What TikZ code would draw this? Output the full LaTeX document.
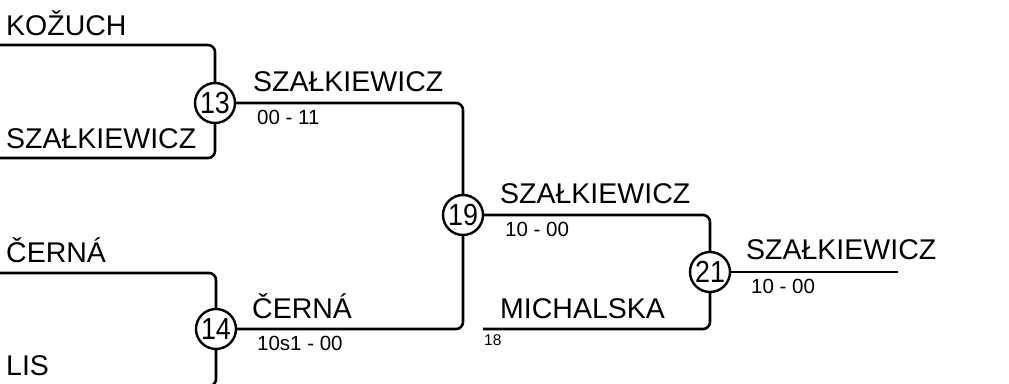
\documentclass[tikz,border=0pt]{standalone}
\usepackage{fontspec}
\setmainfont{Liberation Sans}
\newcommand{\cnum}[1]{\scalebox{0.88}[1]{#1}}
\begin{document}
\begin{tikzpicture}[x=1pt,y=-1pt,
  conn/.style={line width=2.6pt, rounded corners=7pt},
  circ/.style={circle, draw, line width=2.4pt, minimum size=40pt, inner sep=0pt, font=\fontsize{30.5}{30.5}\selectfont},
  pname/.style={anchor=base west, inner sep=0pt, font=\fontsize{28.5}{28.5}\selectfont},
  score/.style={anchor=base west, inner sep=0pt, font=\fontsize{20.5}{20.5}\selectfont},
  seedno/.style={anchor=base west, inner sep=0pt, font=\fontsize{15.5}{15.5}\selectfont}]
\useasboundingbox (0,0) rectangle (1009,383);
% match nodes
\node[circ] (m13) at (215,103) {\cnum{13}};
\node[circ] (m14) at (216,329) {\cnum{14}};
\node[circ] (m19) at (463,215) {\cnum{19}};
\node[circ] (m21) at (710,272) {\cnum{21}};
% free ends
\coordinate (c1) at (-2,45);
\coordinate (c2) at (-2,158);
\coordinate (c3) at (-2,273);
\coordinate (c4) at (-2,386);
\coordinate (c5) at (483,329);
\coordinate (c6) at (898,272);
% connectors
\draw[conn] (c1) -| (m13);
\draw[conn] (c2) -| (m13);
\draw[conn] (c3) -| (m14);
\draw[conn] (c4) -| (m14);
\draw[conn] (m13) -| (m19);
\draw[conn] (m14) -| (m19);
\draw[conn] (m19) -| (m21);
\draw[conn] (c5) -| (m21);
\draw[conn] (m21) -- (c6);
% names
\node[pname] (t1) at (6,35) {KOŽUCH};
\node[pname] (t2) at (6,148) {SZAŁKIEWICZ};
\node[pname] (t3) at (6,262) {ČERNÁ};
\node[pname] (t4) at (6,375) {LIS};
\node[pname] (t5) at (253,91) {SZAŁKIEWICZ};
\node[score] (s5) at (257,124) {00 - 11};
\node[pname] (t6) at (252,318) {ČERNÁ};
\node[score] (s6) at (257,350) {10s1 - 00};
\node[pname] (t7) at (500,203) {SZAŁKIEWICZ};
\node[score] (s7) at (505,236) {10 - 00};
\node[pname] (t8) at (500,318) {MICHALSKA};
\node[seedno] (s8) at (484,345) {18};
\node[pname] (t9) at (746,259) {SZAŁKIEWICZ};
\node[score] (s9) at (751,293) {10 - 00};
\end{tikzpicture}
\end{document}
